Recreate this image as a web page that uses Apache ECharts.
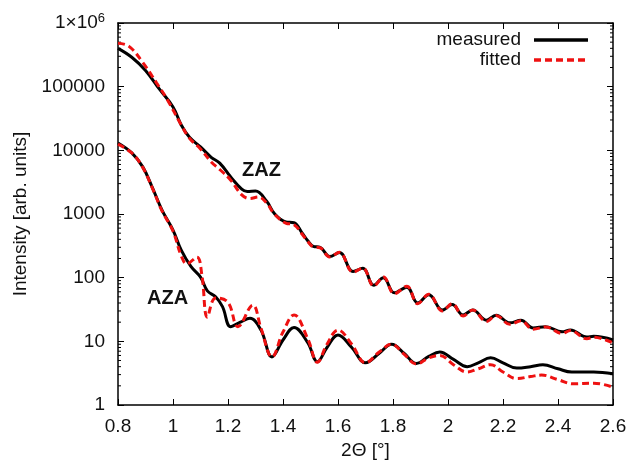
<!DOCTYPE html>
<html>
<head>
<meta charset="utf-8">
<script src="https://cdn.jsdelivr.net/npm/echarts@6/dist/echarts.min.js"></script>
<style>
html,body{margin:0;padding:0;background:#fff;}
#chart{width:632px;height:466px;}
</style>
</head>
<body>
<div id="chart"></div>
<script>
// ---- data ----
const zazMeasuredX = [0.80,0.85,0.90,0.95,1.00,1.03,1.06,1.10,1.14,1.17,1.21,1.25,1.27,1.30,1.34,1.37,1.41,1.44,1.47,1.49,1.51,1.535,1.57,1.605,1.655,1.69,1.73,1.765,1.805,1.85,1.89,1.93,1.98,2.015,2.055,2.09,2.14,2.175,2.225,2.265,2.31,2.355,2.415,2.445,2.505,2.53,2.60];
const zazMeasuredY = [400000,290000,180000,92000,48000,25000,16000,11300,7700,6300,3800,2450,2250,2300,1600,1000,750,730,500,380,310,300,215,248,125,140,76,100,58,71,40,54,31,38,26,31,21.5,25.7,19.5,21.4,16.2,17,14.1,15.1,11.7,12,10.5];

const zazFittedX = [0.80,0.84,0.89,0.94,0.98,1.03,1.06,1.10,1.14,1.17,1.21,1.25,1.28,1.31,1.34,1.37,1.41,1.44,1.47,1.49,1.51,1.535,1.57,1.605,1.655,1.69,1.73,1.765,1.805,1.85,1.89,1.93,1.98,2.015,2.055,2.09,2.14,2.175,2.225,2.265,2.31,2.355,2.415,2.445,2.505,2.53,2.60];
const zazFittedY = [480000,430000,240000,115000,62000,25000,15500,10500,6500,5000,3400,2000,1750,1850,1500,980,720,680,480,370,305,295,212,250,122,142,74,102,56,73,39,55,30,39,25,31,20.5,25.5,18.5,21,15.5,16.8,13.3,14.8,11,11.6,9.4];

const azaMeasuredX = [0.80,0.85,0.89,0.925,0.96,1.00,1.03,1.065,1.10,1.125,1.155,1.18,1.21,1.245,1.28,1.32,1.36,1.40,1.44,1.49,1.525,1.56,1.60,1.65,1.70,1.75,1.795,1.84,1.885,1.93,1.97,2.02,2.07,2.11,2.155,2.20,2.25,2.30,2.345,2.40,2.45,2.53,2.60];
const azaMeasuredY = [13000,9100,5500,2600,1150,560,270,150,102,62,50,35,17,20,23,15,5.7,10.5,16.5,9.5,4.8,8,12.6,8,4.6,6.5,9,6.5,4.5,5.8,6.8,5.2,4.0,4.6,5.5,4.6,3.8,4.0,4.3,3.7,3.3,3.3,3.1];

const azaFittedX = [0.80,0.85,0.89,0.925,0.96,1.00,1.03,1.05,1.087,1.105,1.125,1.155,1.20,1.236,1.29,1.32,1.36,1.40,1.44,1.49,1.525,1.56,1.60,1.65,1.70,1.75,1.795,1.84,1.885,1.93,1.97,2.02,2.07,2.11,2.155,2.20,2.25,2.30,2.34,2.40,2.455,2.53,2.60];
const azaFittedY = [12500,9100,5400,2550,1120,540,220,165,210,110,24,48,41,17,37,16,5.7,14,26,11,4.7,9,15,9,4.6,6.8,9,6.3,4.4,5.5,6.0,4.3,3.3,3.7,4.3,3.3,2.6,2.8,2.95,2.5,2.15,2.2,1.9];

const xTicks = {min: 0.8, max: 2.6, interval: 0.2};
const yRange = {min: 1, max: 1000000};
const seriesNames = ['measured', 'fitted'];
const curveLabels = ['ZAZ', 'AZA'];

// ---- build ----
function zip(xs, ys) { return xs.map((x, i) => [x, ys[i]]); }

const minorTickVals = [];
for (let e = 0; e < 6; e++) for (let m = 2; m <= 9; m++) minorTickVals.push([xTicks.min, m * Math.pow(10, e)]);

const FONT = "'Liberation Sans', Arial, Helvetica, sans-serif";
const RED = '#ee1111';
const chart = echarts.init(document.getElementById('chart'), null, {renderer: 'canvas'});

const blackStyle = {color: '#000', width: 3, type: 'solid'};
const redStyle = {color: RED, width: 3, type: [7, 4]};

const option = {
  animation: false,
  backgroundColor: '#fff',
  textStyle: {fontFamily: FONT},
  grid: {left: 118, right: 19, top: 23, bottom: 61, containLabel: false},
  xAxis: [{
    type: 'value', position: 'bottom', min: xTicks.min, max: xTicks.max, interval: xTicks.interval,
    name: '2\u0398 [\u00B0]', nameLocation: 'middle', nameGap: 31,
    nameTextStyle: {fontSize: 19, color: '#111', fontFamily: FONT},
    axisLine: {show: true, onZero: false, lineStyle: {color: '#000', width: 1.5}},
    axisTick: {show: true, inside: true, length: 6, lineStyle: {color: '#000', width: 1}},
    axisLabel: {fontSize: 19, color: '#111', margin: 12, fontFamily: FONT},
    splitLine: {show: false}
  }, {
    type: 'value', position: 'top', min: xTicks.min, max: xTicks.max, interval: xTicks.interval,
    axisLine: {show: true, onZero: false, lineStyle: {color: '#000', width: 1.5}},
    axisTick: {show: true, inside: true, length: 6, lineStyle: {color: '#000', width: 1}},
    axisLabel: {show: false}, splitLine: {show: false}
  }],
  yAxis: [{
    type: 'log', logBase: 10, position: 'left', min: yRange.min, max: yRange.max,
    name: 'Intensity [arb. units]', nameLocation: 'middle', nameGap: 88,
    nameTextStyle: {fontSize: 19, color: '#111', fontFamily: FONT},
    axisLine: {show: true, onZero: false, lineStyle: {color: '#000', width: 1.5}},
    axisTick: {show: true, inside: true, length: 6, lineStyle: {color: '#000', width: 1}},
    axisLabel: {
      fontSize: 19, color: '#111', margin: 13, fontFamily: FONT,
      formatter: function (v) {
        const r = Math.round(v);
        if (r === 1000000) return '{b|1\u00D710}{s|6}';
        return String(r);
      },
      rich: {
        b: {fontSize: 19, color: '#111', fontFamily: FONT},
        s: {fontSize: 13, color: '#111', fontFamily: FONT, verticalAlign: 'top', padding: [0, 0, 10, 0]}
      }
    },
    splitLine: {show: false}
  }, {
    type: 'log', logBase: 10, position: 'right', min: yRange.min, max: yRange.max,
    axisLine: {show: true, onZero: false, lineStyle: {color: '#000', width: 1.5}},
    axisTick: {show: true, inside: true, length: 6, lineStyle: {color: '#000', width: 1}},
    axisLabel: {show: false}, splitLine: {show: false}
  }],
  series: [
    {name: seriesNames[0], type: 'line', data: zip(zazMeasuredX, zazMeasuredY), smooth: 0.4, symbol: 'none', lineStyle: blackStyle, itemStyle: {color: '#000'}, z: 2},
    {name: seriesNames[0], type: 'line', data: zip(azaMeasuredX, azaMeasuredY), smooth: 0.4, symbol: 'none', lineStyle: blackStyle, itemStyle: {color: '#000'}, z: 2},
    {name: seriesNames[1], type: 'line', data: zip(zazFittedX, zazFittedY), smooth: 0.4, symbol: 'none', lineStyle: redStyle, itemStyle: {color: RED}, z: 3},
    {name: seriesNames[1], type: 'line', data: zip(azaFittedX, azaFittedY), smooth: 0.4, symbol: 'none', lineStyle: redStyle, itemStyle: {color: RED}, z: 3},
    {
      type: 'custom', silent: true, clip: false, z: 1,
      data: minorTickVals,
      renderItem: function (params, api) {
        const pL = api.coord([xTicks.min, api.value(1)]);
        const pR = api.coord([xTicks.max, api.value(1)]);
        return {
          type: 'group',
          children: [
            {type: 'line', shape: {x1: pL[0], y1: pL[1], x2: pL[0] + 3, y2: pL[1]}, style: {stroke: '#000', lineWidth: 1}},
            {type: 'line', shape: {x1: pR[0] - 3, y1: pR[1], x2: pR[0], y2: pR[1]}, style: {stroke: '#000', lineWidth: 1}}
          ]
        };
      }
    }
  ],
  graphic: [
    {type: 'text', left: 242, top: 160, style: {text: curveLabels[0], font: 'bold 20px ' + FONT, fill: '#111'}},
    {type: 'text', left: 147, top: 288, style: {text: curveLabels[1], font: 'bold 20px ' + FONT, fill: '#111'}},
    // legend
    {type: 'text', x: 521, y: 40, style: {text: seriesNames[0], font: '19px ' + FONT, fill: '#111', align: 'right', verticalAlign: 'middle'}},
    {type: 'line', shape: {x1: 534, y1: 40, x2: 588, y2: 40}, style: {stroke: '#000', lineWidth: 3.5}},
    {type: 'text', x: 521, y: 60, style: {text: seriesNames[1], font: '19px ' + FONT, fill: '#111', align: 'right', verticalAlign: 'middle'}},
    {type: 'line', shape: {x1: 534, y1: 60, x2: 588, y2: 60}, style: {stroke: RED, lineWidth: 3.5, lineDash: [7, 4]}}
  ]
};
chart.setOption(option);
</script>
</body>
</html>
